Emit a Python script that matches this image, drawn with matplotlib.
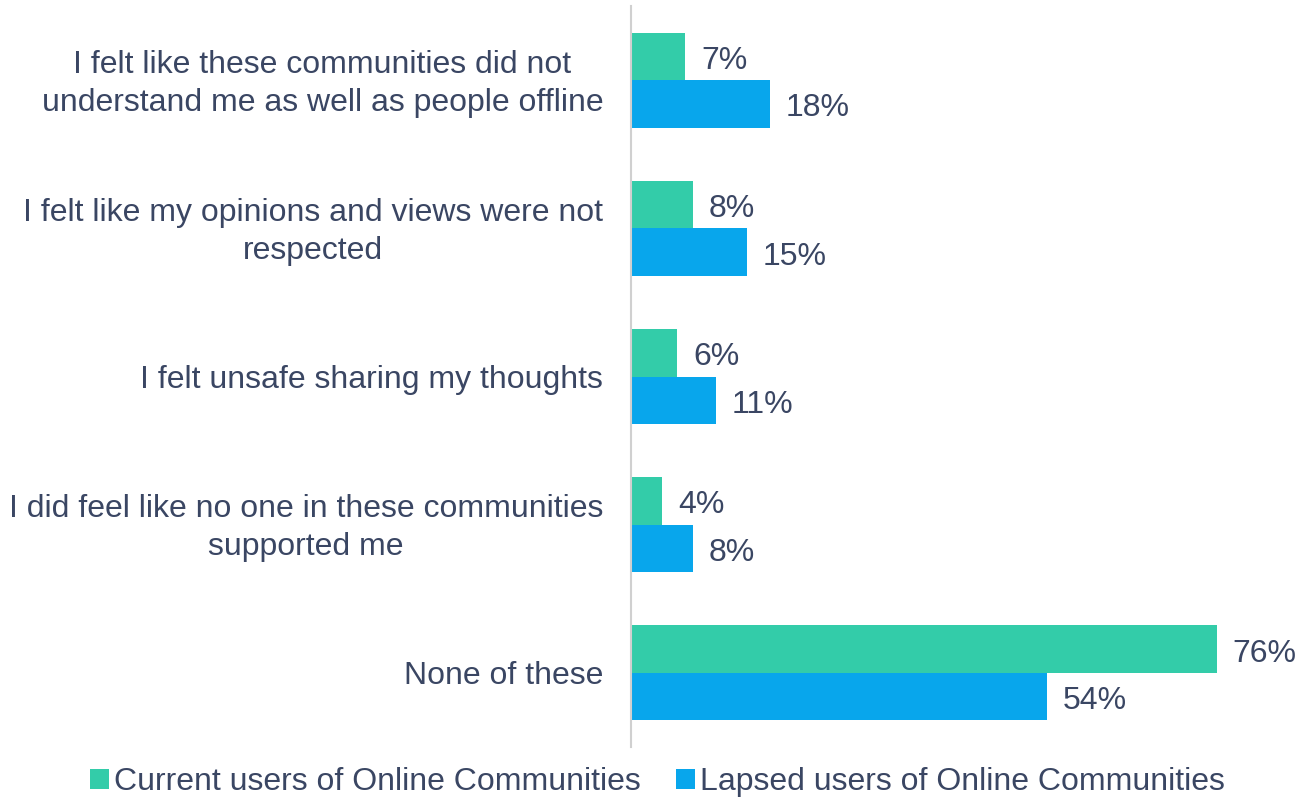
import numpy as np
import matplotlib as mpl
mpl.use('Agg')
import matplotlib.pyplot as plt
import matplotlib.transforms as mtransforms
from matplotlib.patches import Patch

# survey answers, top to bottom
categories = [
    'I felt like these communities did not\nunderstand me as well as people offline',
    'I felt like my opinions and views were not\nrespected',
    'I felt unsafe sharing my thoughts',
    'I did feel like no one in these communities\nsupported me',
    'None of these',
]
current_users = [7, 8, 6, 4, 76]
lapsed_users = [18, 15, 11, 8, 54]
series_names = ['Current users of Online Communities', 'Lapsed users of Online Communities']

green = '#33CCA9'
blue = '#08A6EC'
text_col = '#3A4663'

plt.rcParams['font.family'] = ['Liberation Sans', 'DejaVu Sans']

fig = plt.figure(figsize=(12.99, 8), dpi=100)
ax = fig.add_axes([631 / 1299, 0.06625, 1 - 631 / 1299 - 0.004, 0.92625])

y = np.arange(len(categories))
h = 0.32
ax.barh(y - h / 2, current_users, height=h, color=green, zorder=2)
ax.barh(y + h / 2, lapsed_users, height=h, color=blue, zorder=2)

for yy, v in zip(y - h / 2, current_users):
    ax.annotate(f'{v}%', (v, yy), xytext=(16, -1), textcoords='offset pixels',
                va='center_baseline', ha='left', fontsize=23, color=text_col)
for yy, v in zip(y + h / 2, lapsed_users):
    ax.annotate(f'{v}%', (v, yy), xytext=(16, -1), textcoords='offset pixels',
                va='center_baseline', ha='left', fontsize=23, color=text_col)

ax.set_xlim(0, 86)
ax.set_ylim(4.5, -0.5)
ax.set_xticks([])
ax.set_yticks(y)
labels = ax.set_yticklabels(categories, fontsize=23, color=text_col, ma='center', linespacing=1.36)
ax.tick_params(axis='y', length=0, pad=20)
# two-line labels sit a little high
shift = mtransforms.ScaledTranslation(0, 4 / 100, fig.dpi_scale_trans)
for lab in labels:
    if '\n' in lab.get_text():
        lab.set_transform(lab.get_transform() + shift)

for s in ['top', 'right', 'bottom']:
    ax.spines[s].set_visible(False)
ax.spines['left'].set_color('#D0D0D0')
ax.spines['left'].set_linewidth(1.5)

handles = [Patch(facecolor=green), Patch(facecolor=blue)]
leg = fig.legend(handles, series_names, loc='center', bbox_to_anchor=(0.506, 0.022),
                 ncol=2, frameon=False, fontsize=23, handlelength=0.6, handleheight=0.6,
                 handletextpad=0.15, columnspacing=1.1, borderpad=0)
for t in leg.get_texts():
    t.set_color(text_col)

fig.savefig('out.png', dpi=100)
